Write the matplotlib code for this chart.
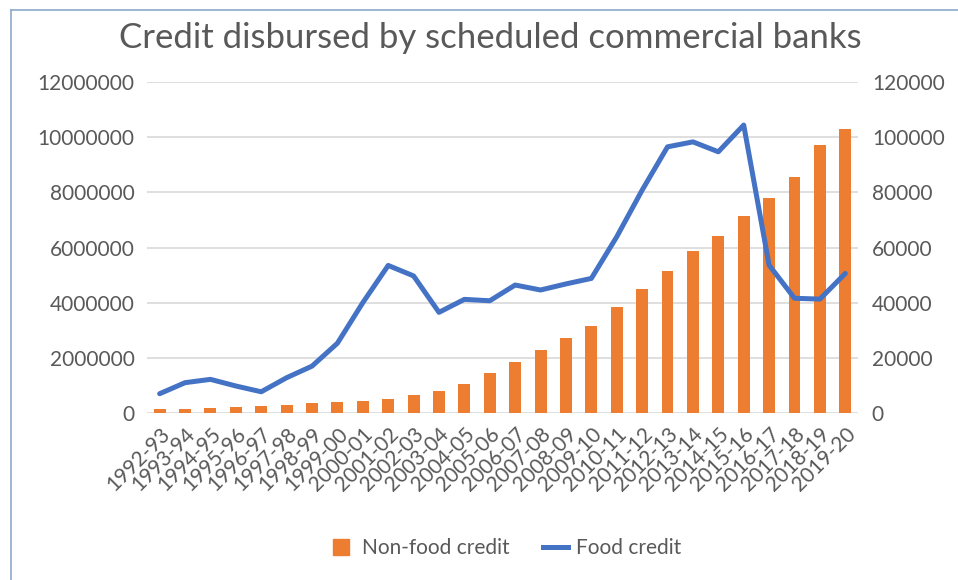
import matplotlib.pyplot as plt
from matplotlib.lines import Line2D
from matplotlib.ticker import StrMethodFormatter
import numpy as np

plt.rcParams['font.family'] = ['Lato', 'DejaVu Sans']

years = ['1992-93', '1993-94', '1994-95', '1995-96', '1996-97', '1997-98',
         '1998-99', '1999-00', '2000-01', '2001-02', '2002-03', '2003-04',
         '2004-05', '2005-06', '2006-07', '2007-08', '2008-09', '2009-10',
         '2010-11', '2011-12', '2012-13', '2013-14', '2014-15', '2015-16',
         '2016-17', '2017-18', '2018-19', '2019-20']

non_food_credit = [140000, 160000, 190000, 230000, 250000, 300000,
                   350000, 400000, 450000, 520000, 660000, 790000,
                   1050000, 1460000, 1860000, 2280000, 2710000, 3170000,
                   3850000, 4510000, 5140000, 5880000, 6430000, 7130000,
                   7780000, 8560000, 9700000, 10300000]

food_credit = [7000, 11000, 12200, 9800, 7700, 12800,
               17000, 25300, 40000, 53500, 49700, 36500,
               41200, 40700, 46400, 44600, 46800, 48800,
               63900, 80800, 96500, 98300, 94700, 104400,
               53600, 41600, 41300, 50600]

text_color = '#595959'
bar_color = '#ED7D31'
line_color = '#4472C4'
x = np.arange(len(years))

fig = plt.figure(figsize=(9.58, 5.8), dpi=100)
ax = fig.add_axes([0.1534, 0.2879, 0.7422, 0.5707])
ax2 = ax.twinx()

ax.bar(x, non_food_credit, width=0.47, color=bar_color, zorder=2)
ax2.plot(x, food_credit, color=line_color, linewidth=3.6,
         solid_joinstyle='round', solid_capstyle='round')

ax.set_xlim(-0.5, len(years) - 0.5)
ax.set_ylim(0, 12000000)
ax2.set_ylim(0, 120000)
ax.set_yticks(np.arange(0, 12000001, 2000000))
ax2.set_yticks(np.arange(0, 120001, 20000))
ax.yaxis.set_major_formatter(StrMethodFormatter('{x:.0f}'))
ax2.yaxis.set_major_formatter(StrMethodFormatter('{x:.0f}'))
ax.yaxis.grid(True, color='#D9D9D9', linewidth=1.2, zorder=0)
ax.set_axisbelow(True)

for a in (ax, ax2):
    for s in a.spines.values():
        s.set_visible(False)
    a.tick_params(length=0, labelsize=15, labelcolor=text_color)

ax.tick_params(axis='y', pad=9)
ax2.tick_params(axis='y', pad=10)

ax.set_xticks(x)
ax.set_xticklabels(years, rotation=45, ha='right', rotation_mode='anchor')
ax.tick_params(axis='x', pad=8)

fig.text(0.512, 0.935, 'Credit disbursed by scheduled commercial banks',
         ha='center', va='center', fontsize=25, color=text_color)

handles = [Line2D([], [], marker='s', markersize=12, linestyle='none',
                  color=bar_color, label='Non-food credit'),
           Line2D([], [], color=line_color, linewidth=3.6, label='Food credit')]
fig.legend(handles=handles, loc='center', bbox_to_anchor=(0.527, 0.055),
           ncol=2, frameon=False, fontsize=15, labelcolor=text_color,
           handlelength=1.2, handletextpad=0.4, columnspacing=1.6)

# chart area border (top and left edges)
fig.add_artist(Line2D([11 / 958, 1], [1 - 10 / 580, 1 - 10 / 580],
                      transform=fig.transFigure, color='#8EA9C8', linewidth=1.2))
fig.add_artist(Line2D([11 / 958, 11 / 958], [0, 1 - 10 / 580],
                      transform=fig.transFigure, color='#8EA9C8', linewidth=1.2))

plt.savefig('out.png', dpi=100)
